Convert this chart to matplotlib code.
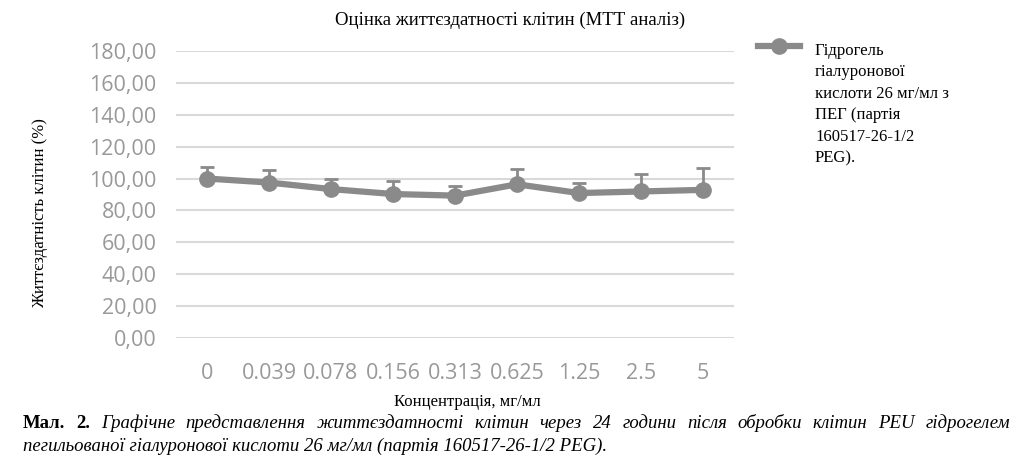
import matplotlib
matplotlib.use("Agg")
import matplotlib.pyplot as plt
import numpy as np
from matplotlib.lines import Line2D

categories = ["0", "0.039", "0.078", "0.156", "0.313", "0.625", "1.25", "2.5", "5"]
viability = [100.0, 97.5, 93.4, 90.3, 89.3, 96.4, 90.9, 91.9, 92.9]
err_upper = [7.5, 8.1, 6.6, 8.2, 6.1, 9.6, 6.6, 11.1, 13.7]
yticks = [0, 20, 40, 60, 80, 100, 120, 140, 160, 180]
ytick_labels = ["0,00", "20,00", "40,00", "60,00", "80,00", "100,00", "120,00", "140,00", "160,00", "180,00"]
series_label = "Гідрогель\nгіалуронової\nкислоти 26 мг/мл з\nПЕГ (партія\n160517-26-1/2\nPEG)."

W, H = 1024, 473
fig = plt.figure(figsize=(W / 100, H / 100), dpi=100)
ax = fig.add_axes([176 / W, 1 - 338 / H, 558 / W, (338 - 51) / H])

x = np.arange(len(categories))
gray = "#8a8a8a"
ax.errorbar(x, viability, yerr=[np.zeros(len(x)), err_upper], fmt="none",
            ecolor=gray, elinewidth=2.0, capsize=5, capthick=2.0, zorder=2)
ax.plot(x, viability, color=gray, lw=4.5, marker="o", markersize=11,
        markerfacecolor=gray, markeredgecolor=gray, zorder=3, label=series_label)

ax.set_xlim(-0.5, len(x) - 0.5)
ax.set_ylim(0, 180)
ax.set_yticks(yticks)
ax.set_yticklabels(ytick_labels)
ax.set_xticks(x)
ax.set_xticklabels(categories)
ax.grid(axis="y", color="#d9d9d9", lw=1.5)
ax.set_axisbelow(True)
for s in ax.spines.values():
    s.set_visible(False)
ax.tick_params(length=0, labelsize=15.5, labelcolor="#999999", pad=14)
for t in ax.get_xticklabels() + ax.get_yticklabels():
    t.set_family("Open Sans")
ax.tick_params(axis="x", pad=18)

serif = "Liberation Serif"
fig.text(510 / W, 1 - 20 / H, "Оцінка життєздатності клітин (МТТ аналіз)",
         ha="center", va="center", family=serif, fontsize=13.5)
fig.text(40 / W, 1 - 213 / H, "Життєздатність клітин (%)", rotation=90,
         ha="center", va="center", family=serif, fontsize=12)
fig.text(467 / W, 1 - 402 / H, "Концентрація, мг/мл", ha="center", va="center",
         family=serif, fontsize=12)

# legend
fig.add_artist(Line2D([758 / W, 800 / W], [1 - 46 / H, 1 - 46 / H], color=gray, lw=4.5))
fig.add_artist(Line2D([779 / W], [1 - 46 / H], color=gray, marker="o", markersize=11))
fig.text(815 / W, 1 - 43 / H, series_label, ha="left", va="top",
         family=serif, fontsize=12, linespacing=1.45)

# caption: first line justified
renderer = fig.canvas.get_renderer()
words1 = [("Мал.", "bold"), ("2.", "bold")] + [(w, "italic") for w in
          "Графічне представлення життєздатності клітин через 24 години після обробки клітин PEU гідрогелем".split()]
fs = 13.5
objs = []
for w, st in words1:
    kw = dict(fontweight="bold") if st == "bold" else dict(style="italic")
    t = fig.text(0, 1 - 423 / H, w, ha="left", va="center", family=serif, fontsize=fs, **kw)
    objs.append(t)
widths = [t.get_window_extent(renderer).width for t in objs]
x0, x1 = 23.0, 1010.0
gap = (x1 - x0 - sum(widths)) / (len(objs) - 1)
cx = x0
for t, wd in zip(objs, widths):
    t.set_x(cx / W)
    cx += wd + gap
fig.text(23 / W, 1 - 446 / H,
         "пегильованої гіалуронової кислоти 26 мг/мл (партія 160517-26-1/2 PEG).",
         ha="left", va="center", family=serif, fontsize=fs, style="italic")

fig.savefig("out.png", dpi=100)
